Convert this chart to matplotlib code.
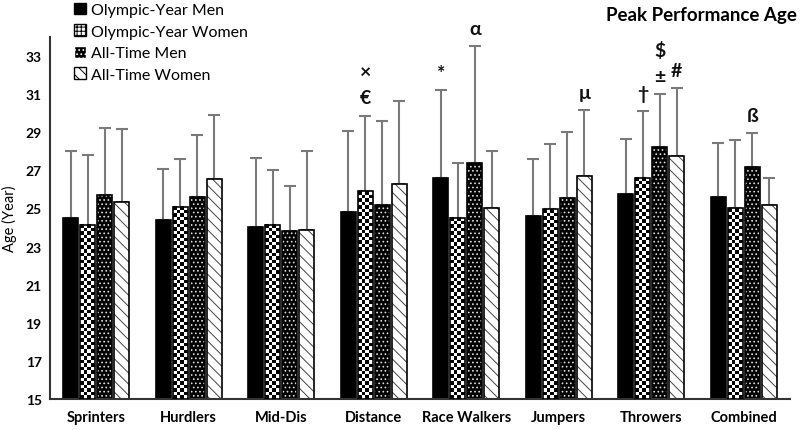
import matplotlib.pyplot as plt
import numpy as np
from matplotlib.patches import Patch

categories = ["Sprinters", "Hurdlers", "Mid-Dis", "Distance",
              "Race Walkers", "Jumpers", "Throwers", "Combined"]
series_names = ["Olympic-Year Men", "Olympic-Year Women",
                "All-Time Men", "All-Time Women"]

oy_men = [24.5, 24.4, 24.0, 24.8, 26.6, 24.6, 25.75, 25.6]
oy_men_sd = [3.5, 2.65, 3.65, 4.25, 4.6, 3.0, 2.9, 2.85]
oy_women = [24.15, 25.1, 24.15, 25.9, 24.5, 24.95, 26.6, 25.0]
oy_women_sd = [3.65, 2.5, 2.85, 3.95, 2.9, 3.45, 3.5, 3.6]
at_men = [25.7, 25.6, 23.8, 25.2, 27.4, 25.55, 28.2, 27.2]
at_men_sd = [3.5, 3.25, 2.4, 4.4, 6.1, 3.45, 2.8, 1.75]
at_women = [25.35, 26.55, 23.85, 26.3, 25.0, 26.7, 27.75, 25.2]
at_women_sd = [3.8, 3.35, 4.15, 4.35, 3.0, 3.45, 3.55, 1.4]

# (category index, series index, symbol, stack level)
annotations = [
    (3, 1, "€", 0), (3, 1, "×", 1),
    (4, 0, "*", 0), (4, 2, "α", 0),
    (5, 3, "μ", 0),
    (6, 1, "†", 0), (6, 2, "±", 0), (6, 2, "$", 1), (6, 3, "#", 0),
    (7, 2, "ß", 0),
]

plt.rcParams["font.family"] = ["Lato", "DejaVu Sans"]
plt.rcParams["hatch.linewidth"] = 0.7

fig = plt.figure(figsize=(8, 4.31), dpi=100)
ax = fig.add_axes([0.0625, 0.072, 0.925, 0.84])

x = np.arange(len(categories))
width = 0.158
pitch = 0.184
offsets = (np.arange(4) - 1.5) * pitch
means = [oy_men, oy_women, at_men, at_women]
sds = [oy_men_sd, oy_women_sd, at_men_sd, at_women_sd]
base = 15

ax.set_xlim(-0.5, len(categories) - 0.5)
ax.set_ylim(15, 34)

# error bars (upper only)
for k in range(4):
    ax.errorbar(x + offsets[k], means[k],
                yerr=[np.zeros(len(categories)), sds[k]],
                fmt="none", ecolor="#7a7a7a", elinewidth=1.5,
                capsize=4, capthick=1.5, zorder=1)

# Olympic-Year Men: solid black
ax.bar(x + offsets[0], np.array(oy_men) - base, width, bottom=base,
       color="black", edgecolor="black", linewidth=1.2, zorder=2)

# Olympic-Year Women: checkerboard via image fill
bars_w = ax.bar(x + offsets[1], np.array(oy_women) - base, width, bottom=base,
                facecolor="none", edgecolor="black", linewidth=1.2, zorder=4)
cells_x = 4
cells_per_year = 5.4
for rect in bars_w:
    x0, w, h = rect.get_x(), rect.get_width(), rect.get_height()
    ny = int(round(h * cells_per_year))
    checker = (np.add.outer(np.arange(ny), np.arange(cells_x)) % 2).astype(float)
    im = ax.imshow(checker, cmap="gray", vmin=0, vmax=1,
                   extent=(x0, x0 + w, base, base + h),
                   interpolation="nearest", aspect="auto", zorder=3)

# All-Time Men: black with white dots
ax.bar(x + offsets[2], np.array(at_men) - base, width, bottom=base,
       facecolor="black", edgecolor="#dddddd", hatch="....", linewidth=0, zorder=2)
ax.bar(x + offsets[2], np.array(at_men) - base, width, bottom=base,
       fill=False, edgecolor="black", linewidth=1.2, zorder=2)

# All-Time Women: white with diagonal dashes
ax.bar(x + offsets[3], np.array(at_women) - base, width, bottom=base,
       facecolor="white", edgecolor="#444444", hatch="\\\\\\", linewidth=0, zorder=2)
ax.bar(x + offsets[3], np.array(at_women) - base, width, bottom=base,
       fill=False, edgecolor="black", linewidth=1.2, zorder=2)

ax.set_xlim(-0.5, len(categories) - 0.5)
ax.set_ylim(15, 34)

# significance symbols above error bars
for ci, si, sym, level in annotations:
    top = means[si][ci] + sds[si][ci]
    ax.annotate(sym, (x[ci] + offsets[si], top), xytext=(0, 13 + 19 * level),
                textcoords="offset points", ha="center", va="center",
                fontsize=14, fontweight="bold", color="#111111")

ax.set_xticks(x)
ax.set_xticklabels(categories, fontweight="bold", fontsize=10.5)
ax.set_yticks(np.arange(15, 34, 2))
ax.set_yticklabels([str(v) for v in range(15, 34, 2)], fontweight="bold", fontsize=10)
ax.tick_params(length=0, pad=6)
ax.tick_params(axis="x", pad=8)
ax.set_ylabel("Age (Year)", fontsize=10.5, labelpad=6)

for side in ["top", "right"]:
    ax.spines[side].set_visible(False)
for side in ["left", "bottom"]:
    ax.spines[side].set_linewidth(1.5)
    ax.spines[side].set_color("#333333")

handles = [
    Patch(facecolor="black", edgecolor="black"),
    Patch(facecolor="white", edgecolor="black", hatch="++++"),
    Patch(facecolor="black", edgecolor="white", hatch="...."),
    Patch(facecolor="white", edgecolor="black", hatch="\\\\\\"),
]
leg = fig.legend(handles, series_names, loc="upper left",
                 bbox_to_anchor=(0.075, 1.025), frameon=False, fontsize=11.5,
                 handlelength=0.75, handleheight=0.75, handletextpad=0.3,
                 labelspacing=0.45)

fig.text(0.996, 0.965, "Peak Performance Age", ha="right", va="center",
         fontsize=13.5, fontweight="bold")

fig.savefig("out.png", dpi=100)
